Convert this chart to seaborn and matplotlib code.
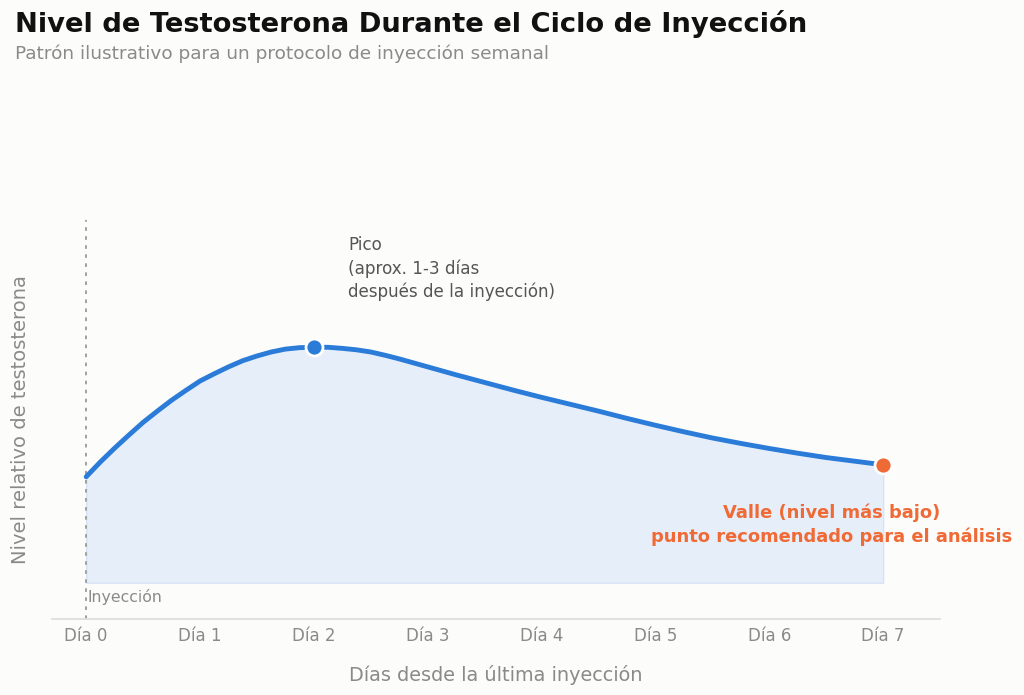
import matplotlib
matplotlib.use("Agg")
import matplotlib.pyplot as plt
import seaborn as sns
import pandas as pd

# curve (relative level, day since injection)
days = [0, 0.125, 0.25, 0.375, 0.5, 0.625, 0.75, 0.875, 1, 1.125, 1.25, 1.375,
        1.5, 1.625, 1.75, 1.875, 2, 2.125, 2.25, 2.375, 2.5, 2.625, 2.75,
        2.875, 3, 3.25, 3.5, 3.75, 4, 4.25, 4.5, 4.75, 5, 5.25, 5.5, 5.75, 6,
        6.25, 6.5, 6.75, 7]
level = [29.2, 33.3, 37.1, 40.7, 44.2, 47.3, 50.3, 53.0, 55.6, 57.6, 59.5, 61.2,
         62.5, 63.6, 64.4, 64.8, 64.9, 64.9, 64.6, 64.2, 63.6, 62.7, 61.7,
         60.6, 59.5, 57.3, 55.2, 53.1, 51.1, 49.2, 47.3, 45.3, 43.4, 41.6, 39.9,
         38.4, 37.0, 35.7, 34.5, 33.5, 32.5]
tick_days = [0, 1, 2, 3, 4, 5, 6, 7]
tick_labels = ["Día 0", "Día 1", "Día 2", "Día 3", "Día 4", "Día 5", "Día 6", "Día 7"]
peak_day, peak_level = 2, 64.9
trough_day, trough_level = 7, 32.5

df = pd.DataFrame({"dia": days, "nivel": level})

BLUE = "#2b7bd9"
ORANGE = "#f06a35"
BG = "#fcfcfa"
GREY = "#8a8a8a"

sns.set_theme(style="white")
plt.rcParams["font.family"] = ["DejaVu Sans"]

fig = plt.figure(figsize=(10.24, 6.95), dpi=100, facecolor=BG)
ax = fig.add_axes([0.0508, 0.1094, 0.8672, 0.5741])
ax.set_facecolor(BG)

ax.fill_between(df["dia"], 0, df["nivel"], color="#e6eef9", edgecolor="#d6e3f4", linewidth=1, zorder=1)
sns.lineplot(data=df, x="dia", y="nivel", color=BLUE, linewidth=3.5, ax=ax, zorder=3,
             solid_capstyle="round", solid_joinstyle="round")
ax.axvline(0, color="#999999", linestyle=(0, (2, 3)), linewidth=1.3, zorder=2)

sns.scatterplot(x=[peak_day], y=[peak_level], color=BLUE, s=150, edgecolor="white",
                linewidth=2, ax=ax, zorder=4)
sns.scatterplot(x=[trough_day], y=[trough_level], color=ORANGE, s=150, edgecolor="white",
                linewidth=2, ax=ax, zorder=4)

ax.text(2.3, 95.6, "Pico\n(aprox. 1-3 días\ndespués de la inyección)", fontsize=12.1,
        color="#555555", ha="left", va="top", linespacing=1.35)
ax.text(6.55, 16.0, "Valle (nivel más bajo)\npunto recomendado para el análisis", fontsize=12.9,
        color=ORANGE, fontweight="bold", ha="center", va="center", linespacing=1.38,
        clip_on=False)
ax.text(0.01, -4, "Inyección", fontsize=11.3, color=GREY, ha="left", va="center")

ax.set_xlim(-0.3, 7.5)
ax.set_ylim(-10, 100)
ax.set_xticks(tick_days)
ax.set_xticklabels(tick_labels, fontsize=12, color=GREY)
ax.set_yticks([])
ax.tick_params(axis="x", length=0, pad=6)
ax.set_xlabel("Días desde la última inyección", fontsize=13.9, color=GREY, labelpad=14)
ax.set_ylabel("Nivel relativo de testosterona", fontsize=14, color=GREY, labelpad=16)
for s in ["top", "right", "left"]:
    ax.spines[s].set_visible(False)
ax.spines["bottom"].set_color("#dddddd")

fig.text(0.0146, 0.965, "Nivel de Testosterona Durante el Ciclo de Inyección", fontsize=19.7,
         fontweight="bold", color="#111111", ha="left", va="center")
fig.text(0.0146, 0.922, "Patrón ilustrativo para un protocolo de inyección semanal", fontsize=13.3,
         color=GREY, ha="left", va="center")

fig.savefig("out.png", dpi=100, facecolor=BG)
